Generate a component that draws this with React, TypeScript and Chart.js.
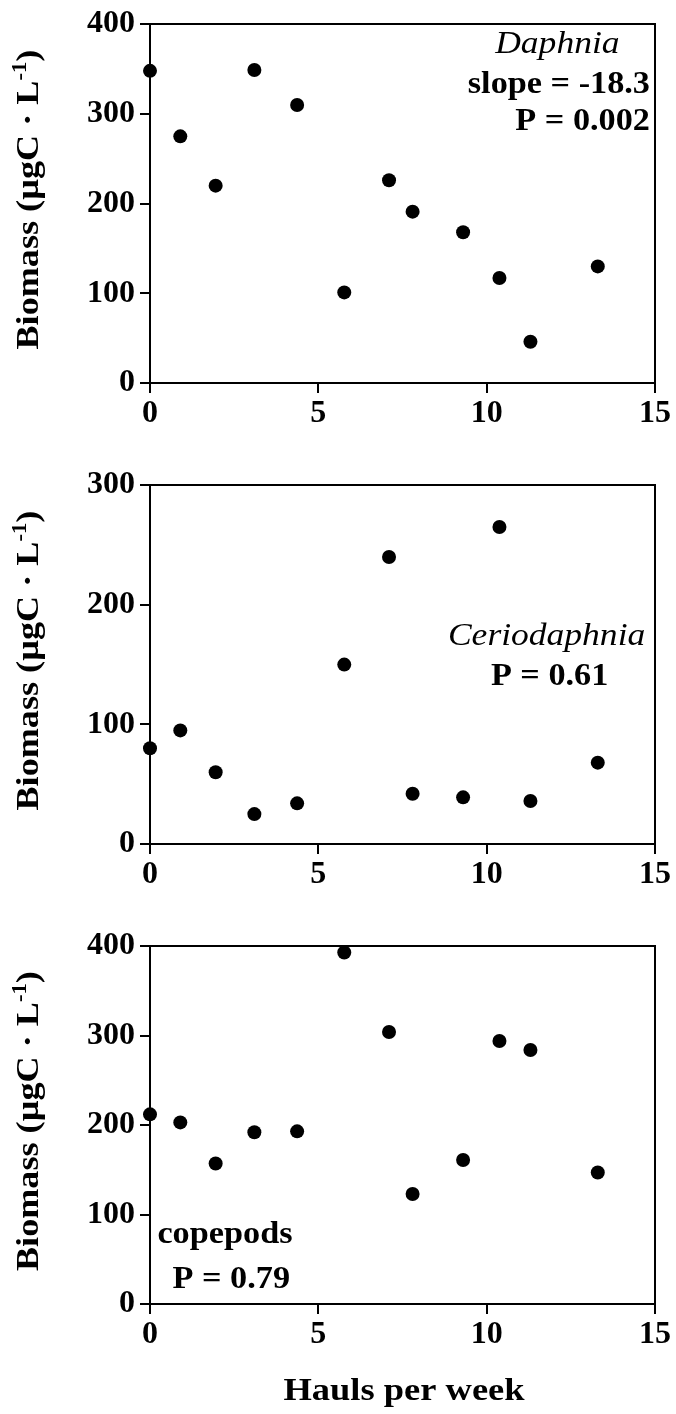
import React, { useEffect, useRef } from "react";
import { Chart, registerables } from "chart.js";

Chart.register(...registerables);

// ---- Data ----
const haulsPerWeek = [0, 0.9, 1.95, 3.1, 4.37, 5.77, 7.1, 7.8, 9.3, 10.38, 11.3, 13.3];
const daphniaBiomass = [348, 275, 220, 349, 310, 101, 226, 191, 168, 117, 46, 130];
const ceriodaphniaBiomass = [80, 95, 60, 25, 34, 150, 240, 42, 39, 265, 36, 68];
const copepodBiomass = [212, 203, 157, 192, 193, 393, 304, 123, 161, 294, 284, 147];

const xTickValues = [0, 5, 10, 15];
const daphniaYTicks = [0, 100, 200, 300, 400];
const ceriodaphniaYTicks = [0, 100, 200, 300];
const copepodYTicks = [0, 100, 200, 300, 400];

const yAxisTitle = "Biomass (µgC · L";
const yAxisTitleSup = "-1";
const xAxisTitle = "Hauls per week";

const FAMILY = "'Liberation Serif', 'Times New Roman', serif";
const FS = 32;
const SX = 1.07;

type Note = {
  text: string;
  italic?: boolean;
  x: number; // data x
  y: number; // data y (baseline)
  align: "left" | "right" | "center";
};

function drawText(
  ctx: CanvasRenderingContext2D,
  text: string,
  x: number,
  y: number,
  font: string,
  align: "left" | "right" | "center",
  sx = SX
) {
  ctx.save();
  ctx.font = font;
  ctx.textBaseline = "alphabetic";
  ctx.textAlign = "left";
  ctx.fillStyle = "#000";
  const w = ctx.measureText(text).width * sx;
  const left = align === "left" ? x : align === "right" ? x - w : x - w / 2;
  ctx.translate(left, y);
  ctx.scale(sx, 1);
  ctx.fillText(text, 0, 0);
  ctx.restore();
}

function drawYTitle(ctx: CanvasRenderingContext2D, cx: number, cy: number) {
  const sx = 1.13;
  const mainFont = `bold ${FS}px ${FAMILY}`;
  const supFont = `bold 20px ${FAMILY}`;
  ctx.save();
  ctx.font = mainFont;
  const w1 = ctx.measureText(yAxisTitle).width * sx;
  const w3 = ctx.measureText(")").width * sx;
  ctx.font = supFont;
  const w2 = ctx.measureText(yAxisTitleSup).width * sx;
  const total = w1 + w2 + w3;
  ctx.translate(cx, cy);
  ctx.rotate(-Math.PI / 2);
  ctx.fillStyle = "#000";
  ctx.textBaseline = "alphabetic";
  ctx.textAlign = "left";
  let pos = -total / 2;
  const piece = (t: string, f: string, dy: number, w: number) => {
    ctx.save();
    ctx.font = f;
    ctx.translate(pos, dy);
    ctx.scale(sx, 1);
    ctx.fillText(t, 0, 0);
    ctx.restore();
    pos += w;
  };
  piece(yAxisTitle, mainFont, 0, w1);
  piece(yAxisTitleSup, supFont, -12, w2);
  piece(")", mainFont, 0, w3);
  ctx.restore();
}

type PanelProps = {
  top: number;
  height: number;
  xAxisHeight: number;
  values: number[];
  yTicks: number[];
  notes: Note[];
  showXTitle?: boolean;
};

const tickFont = { family: FAMILY, size: 32, weight: "bold" as const };

function Panel({ top, height, xAxisHeight, values, yTicks, notes, showXTitle }: PanelProps) {
  const ref = useRef<HTMLCanvasElement | null>(null);

  useEffect(() => {
    const canvas = ref.current;
    if (!canvas) return;
    const yMin = yTicks[0];
    const yMax = yTicks[yTicks.length - 1];
    const xMin = xTickValues[0];
    const xMax = xTickValues[xTickValues.length - 1];
    const xStep = xTickValues[1] - xTickValues[0];
    const yStep = yTicks[1] - yTicks[0];

    const textPlugin = {
      id: "panelText",
      afterDraw(chart: any) {
        const ctx = chart.ctx as CanvasRenderingContext2D;
        const xs = chart.scales.x;
        const ys = chart.scales.y;
        const area = chart.chartArea;
        drawYTitle(ctx, 38, (area.top + area.bottom) / 2 - 4);
        notes.forEach((n) => {
          const font = n.italic ? `italic ${FS}px ${FAMILY}` : `bold ${FS}px ${FAMILY}`;
          drawText(ctx, n.text, xs.getPixelForValue(n.x), ys.getPixelForValue(n.y), font, n.align, n.italic ? 1.11 : SX);
        });
        if (showXTitle) {
          drawText(ctx, xAxisTitle, 404, height - 14, `bold ${FS}px ${FAMILY}`, "center", 1.14);
        }
      },
    };

    const frame = {
      display: true,
      ticks: { display: false },
      grid: { display: false, drawTicks: false },
      border: { display: true, color: "#000", width: 2 },
    };

    const chart = new Chart(canvas, {
      type: "scatter",
      data: {
        datasets: [
          {
            data: haulsPerWeek.map((x, i) => ({ x, y: values[i] })),
            backgroundColor: "#000",
            borderColor: "#000",
            pointRadius: 7,
            pointBorderWidth: 0,
            clip: false as any,
          },
        ],
      },
      options: {
        responsive: false,
        maintainAspectRatio: false,
        animation: false,
        events: [],
        devicePixelRatio: 1,
        layout: { padding: { top: 20, right: 21, left: 0, bottom: 0 } },
        plugins: { legend: { display: false }, tooltip: { enabled: false } },
        scales: {
          x: {
            type: "linear",
            position: "bottom",
            min: xMin,
            max: xMax,
            ticks: { stepSize: xStep, padding: 2, color: "#000", font: tickFont, maxRotation: 0 },
            grid: { display: true, drawOnChartArea: false, drawTicks: true, tickLength: 10, color: "#000", lineWidth: 2 },
            border: { display: true, color: "#000", width: 2 },
            afterFit: (s: any) => {
              s.height = xAxisHeight;
            },
          },
          y: {
            type: "linear",
            position: "left",
            min: yMin,
            max: yMax,
            ticks: { stepSize: yStep, padding: 5, color: "#000", font: tickFont },
            grid: { display: true, drawOnChartArea: false, drawTicks: true, tickLength: 10, color: "#000", lineWidth: 2 },
            border: { display: true, color: "#000", width: 2 },
            afterFit: (s: any) => {
              s.width = 150;
            },
          },
          xTop: {
            ...frame,
            type: "linear",
            position: "top",
            min: xMin,
            max: xMax,
            afterFit: (s: any) => {
              s.height = 0;
            },
          },
          yRight: {
            ...frame,
            type: "linear",
            position: "right",
            min: yMin,
            max: yMax,
            afterFit: (s: any) => {
              s.width = 0;
            },
          },
        } as any,
      },
      plugins: [textPlugin],
    });
    return () => chart.destroy();
  }, []);

  return (
    <canvas
      ref={ref}
      width={676}
      height={height}
      style={{ position: "absolute", left: 0, top, width: 676, height }}
    />
  );
}

const daphniaNotes: Note[] = [
  { text: "Daphnia", italic: true, x: 12.1, y: 368, align: "center" },
  { text: "slope = -18.3", x: 14.85, y: 323, align: "right" },
  { text: "P = 0.002", x: 14.85, y: 282, align: "right" },
];
const ceriodaphniaNotes: Note[] = [
  { text: "Ceriodaphnia", italic: true, x: 11.78, y: 166, align: "center" },
  { text: "P = 0.61", x: 11.87, y: 133, align: "center" },
];
const copepodNotes: Note[] = [
  { text: "copepods", x: 0.22, y: 68, align: "left" },
  { text: "P = 0.79", x: 0.67, y: 18, align: "left" },
];

export default function App() {
  return (
    <div style={{ position: "absolute", left: 0, top: 0, width: 676, height: 1414, background: "#fff" }}>
      <Panel top={0} height={461} xAxisHeight={78} values={daphniaBiomass} yTicks={daphniaYTicks} notes={daphniaNotes} />
      <Panel top={461} height={461} xAxisHeight={78} values={ceriodaphniaBiomass} yTicks={ceriodaphniaYTicks} notes={ceriodaphniaNotes} />
      <Panel top={922} height={492} xAxisHeight={110} values={copepodBiomass} yTicks={copepodYTicks} notes={copepodNotes} showXTitle />
    </div>
  );
}
